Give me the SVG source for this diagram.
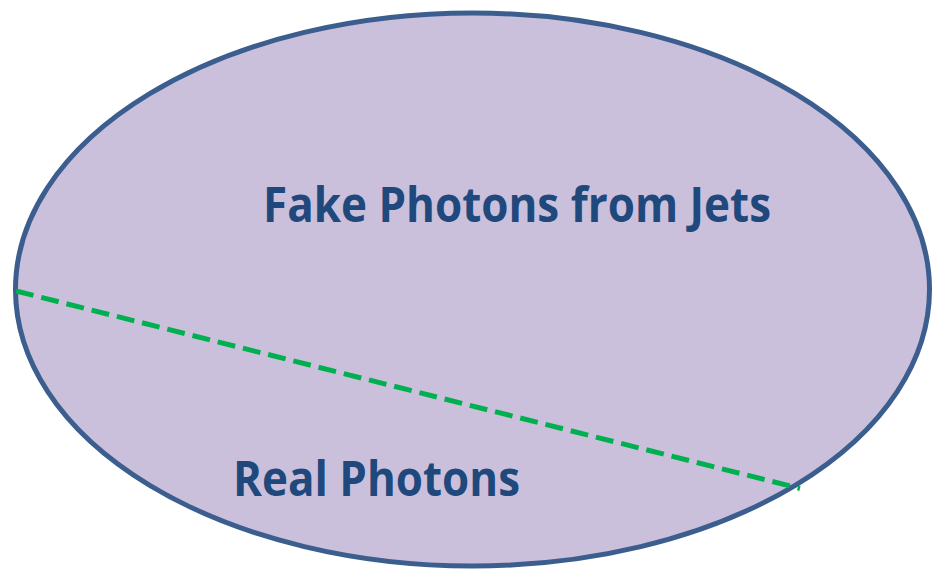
<svg xmlns="http://www.w3.org/2000/svg" width="932" height="570" viewBox="0 0 932 570">
<style>
.lbl{font-family:"Open Sans","Liberation Sans",sans-serif;font-weight:bold;fill:#1F487C;font-size:49px}
</style>
<rect width="932" height="570" fill="#FFFFFF"/>
<g id="region">
<ellipse cx="472.5" cy="289.5" rx="457" ry="276.5" fill="#CBC0DB" stroke="#3B5E8E" stroke-width="5"/>
</g>
<g id="connectors">
<line x1="16" y1="291" x2="800" y2="488.5" stroke="#00B050" stroke-width="5" stroke-dasharray="18,8"/>
</g>
<g id="fake">
<text class="lbl" x="263" y="222" textLength="508" lengthAdjust="spacingAndGlyphs">Fake Photons from Jets</text>
</g>
<g id="real">
<text class="lbl" x="233" y="496" textLength="287" lengthAdjust="spacingAndGlyphs">Real Photons</text>
</g>
</svg>
